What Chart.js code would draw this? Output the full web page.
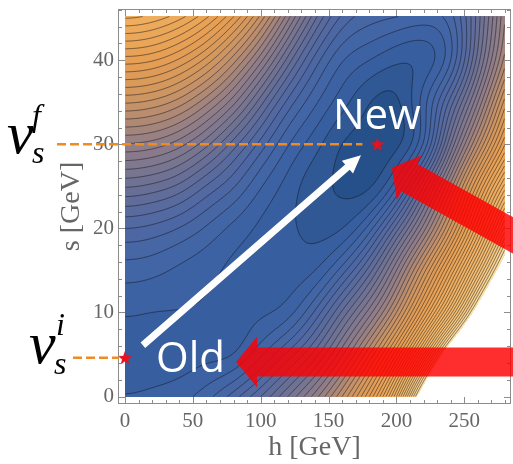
<!DOCTYPE html>
<html><head><meta charset="utf-8">
<script src="https://cdn.jsdelivr.net/npm/chart.js@4.4.1/dist/chart.umd.min.js"></script>
<style>
html,body{margin:0;padding:0;background:#fff;overflow:hidden;}
canvas{display:block;}
</style></head>
<body>
<canvas id="c" width="520" height="464" style="width:520px;height:464px"></canvas>
<script>
// ---------- data ----------
const hValues = [0,20,40,60,80,100,120,140,160,180,200,220,240,260,280];
const sValues = [0,5,10,15,20,25,30,35,40,45];
// contour level index of the potential at each (h, s) grid node
const level_s0  = [3.05,3.2,3.6,4.6,6.5,9.0,12.0,15.5,20.0,26.0,35.0,48.0,60.0,72.0,84.0];
const level_s5  = [2.5,2.5,2.55,2.75,3.05,4.8,7.3,10.5,14.8,20.0,27.0,37.0,48.5,59.0,70.0];
const level_s10 = [3.1,3.0,2.95,2.85,2.7,2.85,3.6,6.2,10.2,14.5,20.0,27.5,36.5,47.0,58.0];
const level_s15 = [4.5,4.3,3.8,3.3,2.8,2.6,2.5,3.0,5.5,9.5,15.0,21.5,29.0,38.0,48.0];
const level_s20 = [7.0,6.7,5.95,4.85,3.7,2.8,2.2,1.7,2.0,4.5,9.5,15.5,22.5,31.0,40.5];
const level_s25 = [11.1,10.7,9.7,7.9,6.1,4.1,2.6,1.4,0.85,0.9,3.8,10.0,17.5,25.5,33.5];
const level_s30 = [15.9,15.55,14.4,12.3,9.5,6.6,4.1,2.4,1.0,0.55,0.8,4.2,12.0,19.5,27.0];
const level_s35 = [21.1,20.7,19.5,17.3,14.3,10.4,6.7,4.2,2.4,1.05,0.85,3.5,8.5,15.0,22.5];
const level_s40 = [26.5,26.1,24.8,22.6,19.4,15.3,10.6,6.6,4.1,3.0,2.2,2.4,5.0,11.5,18.5];
const level_s45 = [32.0,31.5,30.2,28.0,24.8,20.5,15.3,10.2,6.7,5.4,4.9,4.5,5.6,10.5,17.0];
const levelGrid = [level_s0,level_s5,level_s10,level_s15,level_s20,level_s25,level_s30,level_s35,level_s40,level_s45];
const contourLevels = [1,2,3,4,5,6,7,8,9,10,11,12,13,14,15,16,17,18,19,20,21,22,23,24,25,26,27,28,29,30,31,32,33,34,35,36,37,38,39,40,41,42,43,44];
const clipLevel = 45;
const plotRangeH = [0, 280];
const plotRangeS = [0, 45.25];
const vacuumH = [0, 186];
const vacuumS = [4.6, 30];
const vacuumNames = ['Old', 'New'];
const xTickValues = [0,50,100,150,200,250];
const yTickValues = [0,10,20,30,40];

// ---------- smooth field: natural cubic splines through the grid ----------
function splineM(y) {            // second derivatives (unit spacing), natural ends
  const n = y.length, M = new Array(n).fill(0);
  if (n < 3) return M;
  const c = new Array(n).fill(0), d = new Array(n).fill(0);
  for (let i = 1; i < n - 1; i++) {
    const rhs = 6 * (y[i - 1] - 2 * y[i] + y[i + 1]);
    const m = 4 - (i > 1 ? c[i - 1] : 0);
    c[i] = 1 / m;
    d[i] = (rhs - (i > 1 ? d[i - 1] : 0)) / m;
  }
  for (let i = n - 2; i >= 1; i--) M[i] = d[i] - c[i] * M[i + 1];
  return M;
}
function splineAt(y, M, u) {     // u in node units
  const n = y.length;
  let i = Math.floor(u); if (i < 0) i = 0; if (i > n - 2) i = n - 2;
  const t = u - i, s = 1 - t;
  return s * y[i] + t * y[i + 1] + ((s * s * s - s) * M[i] + (t * t * t - t) * M[i + 1]) / 6;
}
// each row is extended by mirror symmetry h -> -h
const dh = hValues[1] - hValues[0], ds = sValues[1] - sValues[0];
const rowExt = levelGrid.map(r => [r[2], r[1]].concat(r));
const rowM = rowExt.map(r => splineM(r));
function columnAt(h) {
  const u = (h - hValues[0]) / dh + 2;
  return rowExt.map((r, j) => splineAt(r, rowM[j], u));
}

// colour ramp (blue -> grey -> orange -> pale)
const rampL = [0.5, 2, 4, 7, 10, 13, 16, 19, 22, 26, 32, 38, 42, 45];
const rampC = [[37,80,137],[52,92,155],[64,100,166],[78,104,163],[100,110,152],[124,118,144],[147,127,134],[182,139,114],[210,151,95],[229,158,82],[240,174,94],[245,190,112],[248,205,135],[251,228,172]];
function colorAt(L) {
  if (L <= rampL[0]) return rampC[0];
  for (let k = 1; k < rampL.length; k++) {
    if (L <= rampL[k]) {
      const f = (L - rampL[k - 1]) / (rampL[k] - rampL[k - 1]);
      const a = rampC[k - 1], b = rampC[k];
      return [a[0] + f * (b[0] - a[0]), a[1] + f * (b[1] - a[1]), a[2] + f * (b[2] - a[2])];
    }
  }
  return rampC[rampC.length - 1];
}

const levelSet = {};
contourLevels.forEach(v => levelSet[v] = true);

const contourPlugin = {
  id: 'contour',
  beforeDatasetsDraw(chart) {
    const ctx = chart.ctx, xs = chart.scales.x, ys = chart.scales.y;
    const px0 = Math.round(xs.getPixelForValue(plotRangeH[0]));
    const px1 = Math.round(xs.getPixelForValue(plotRangeH[1]));
    const py0 = Math.round(ys.getPixelForValue(plotRangeS[1]));
    const py1 = Math.round(ys.getPixelForValue(plotRangeS[0]));
    const W = px1 - px0, H = py1 - py0;
    const vals = new Float32Array(W * H);
    const sU = [];
    for (let j = 0; j < H; j++) sU.push((ys.getValueForPixel(py0 + j + 0.5) - sValues[0]) / ds);
    for (let i = 0; i < W; i++) {
      const col = columnAt(xs.getValueForPixel(px0 + i + 0.5));
      const M = splineM(col);
      for (let j = 0; j < H; j++) vals[j * W + i] = splineAt(col, M, sU[j]);
    }
    const off = document.createElement('canvas');
    off.width = W; off.height = H;
    const octx = off.getContext('2d');
    const img = octx.createImageData(W, H);
    for (let k = 0; k < W * H; k++) {
      const L = vals[k];
      if (L >= clipLevel) continue;
      const c = colorAt(Math.floor(L) + 0.5);
      img.data[4 * k] = c[0]; img.data[4 * k + 1] = c[1]; img.data[4 * k + 2] = c[2]; img.data[4 * k + 3] = 255;
    }
    octx.putImageData(img, 0, 0);
    ctx.drawImage(off, px0, py0);

    ctx.save();
    ctx.beginPath(); ctx.rect(px0, py0, W, H); ctx.clip();
    ctx.beginPath();
    const ox = px0 + 0.5, oy = py0 + 0.5;
    for (let j = 0; j < H - 1; j++) {
      for (let i = 0; i < W - 1; i++) {
        const a = vals[j * W + i], b = vals[j * W + i + 1], c = vals[(j + 1) * W + i + 1], d = vals[(j + 1) * W + i];
        const mn = Math.min(a, b, c, d), mx = Math.max(a, b, c, d);
        const k0 = Math.floor(mn) + 1, k1 = Math.floor(mx);
        for (let k = k0; k <= k1; k++) {
          if (!levelSet[k]) continue;
          const pts = [];
          if ((a < k) !== (b < k)) pts.push([i + (k - a) / (b - a), j]);
          if ((b < k) !== (c < k)) pts.push([i + 1, j + (k - b) / (c - b)]);
          if ((d < k) !== (c < k)) pts.push([i + (k - d) / (c - d), j + 1]);
          if ((a < k) !== (d < k)) pts.push([i, j + (k - a) / (d - a)]);
          for (let p = 0; p + 1 < pts.length; p += 2) {
            ctx.moveTo(ox + pts[p][0], oy + pts[p][1]);
            ctx.lineTo(ox + pts[p + 1][0], oy + pts[p + 1][1]);
          }
        }
      }
    }
    ctx.strokeStyle = 'rgba(20,20,30,0.55)';
    ctx.lineWidth = 1;
    ctx.stroke();
    ctx.restore();
  }
};

// frame with inward ticks (Mathematica style)
const framePlugin = {
  id: 'frame',
  afterDatasetsDraw(chart) {
    const ctx = chart.ctx, a = chart.chartArea, xs = chart.scales.x, ys = chart.scales.y;
    ctx.save();
    ctx.strokeStyle = '#8c8c8c'; ctx.lineWidth = 1;
    ctx.strokeRect(a.left + 0.5, a.top + 0.5, a.right - a.left - 1, a.bottom - a.top - 1);
    ctx.beginPath();
    for (let v = 0; v <= 280; v += 10) {
      const px = Math.round(xs.getPixelForValue(v)) + 0.5;
      const len = v % 50 === 0 ? 7 : 4;
      ctx.moveTo(px, a.bottom); ctx.lineTo(px, a.bottom - len);
      ctx.moveTo(px, a.top); ctx.lineTo(px, a.top + len);
    }
    for (let v = 0; v <= 46; v += 2) {
      const py = Math.round(ys.getPixelForValue(v)) + 0.5;
      const len = v % 10 === 0 ? 7 : 4;
      ctx.moveTo(a.left, py); ctx.lineTo(a.left + len, py);
      ctx.moveTo(a.right, py); ctx.lineTo(a.right - len, py);
    }
    ctx.stroke();
    ctx.restore();
  }
};

function arrow(ctx, x1, y1, x2, y2, sw, hl, hw, color) {
  const dx = x2 - x1, dy = y2 - y1, len = Math.hypot(dx, dy);
  const ux = dx / len, uy = dy / len, nx = -uy, ny = ux;
  const bx = x2 - ux * hl, by = y2 - uy * hl;
  ctx.beginPath();
  ctx.moveTo(x1 + nx * sw / 2, y1 + ny * sw / 2);
  ctx.lineTo(bx + nx * sw / 2, by + ny * sw / 2);
  ctx.lineTo(bx + nx * hw / 2, by + ny * hw / 2);
  ctx.lineTo(x2, y2);
  ctx.lineTo(bx - nx * hw / 2, by - ny * hw / 2);
  ctx.lineTo(bx - nx * sw / 2, by - ny * sw / 2);
  ctx.lineTo(x1 - nx * sw / 2, y1 - ny * sw / 2);
  ctx.closePath();
  ctx.fillStyle = color;
  ctx.fill();
}

function mathLabel(ctx, x, y, sup, supDx, supDy, subDx, subDy) {
  ctx.fillStyle = '#000';
  ctx.textAlign = 'left'; ctx.textBaseline = 'alphabetic';
  ctx.font = 'italic 60px "Liberation Serif"';
  ctx.fillText('v', x, y);
  ctx.font = 'italic 32px "Liberation Serif"';
  ctx.fillText(sup, x + supDx, y + supDy);
  ctx.fillText('s', x + subDx, y + subDy);
}

const annotatePlugin = {
  id: 'annotate',
  afterDatasetsDraw(chart) {
    const ctx = chart.ctx, xs = chart.scales.x, ys = chart.scales.y;
    const X = v => xs.getPixelForValue(v), Y = v => ys.getPixelForValue(v);
    ctx.save();
    // dashed guide lines to the vacuum expectation values
    ctx.strokeStyle = '#f08a22'; ctx.lineWidth = 2.5; ctx.setLineDash([9, 4]);
    ctx.beginPath();
    ctx.moveTo(57, Y(vacuumS[1])); ctx.lineTo(X(vacuumH[1]) - 15, Y(vacuumS[1]));
    ctx.moveTo(73, Y(vacuumS[0])); ctx.lineTo(X(vacuumH[0]) - 6, Y(vacuumS[0]));
    ctx.stroke();
    ctx.setLineDash([]);
    // white tunnelling arrow
    arrow(ctx, X(13.2), Y(6.1), X(173.9), Y(28.7), 7, 18, 17, '#ffffff');
    // red arrows
    arrow(ctx, X(300), Y(4.1), X(81.9), Y(4.1), 29, 21, 51, 'rgba(255,0,0,0.82)');
    arrow(ctx, X(330), Y(15.2), X(196.6), Y(27.2), 32, 20, 51, 'rgba(255,0,0,0.82)');
    // text labels
    ctx.fillStyle = '#ffffff';
    ctx.font = '42px "Open Sans"';
    ctx.textBaseline = 'alphabetic'; ctx.textAlign = 'left';
    ctx.fillText(vacuumNames[1], 333, 129);
    ctx.fillText(vacuumNames[0], 156, 372);
    // vev labels
    mathLabel(ctx, 7, 153, 'f', 25, -27, 25, 10);
    mathLabel(ctx, 29, 363, 'i', 27, -28, 25, 11);
    ctx.restore();
  }
};

// star point style
const star = document.createElement('canvas');
star.width = 16; star.height = 16;
(function () {
  const c = star.getContext('2d');
  c.beginPath();
  for (let k = 0; k < 10; k++) {
    const r = k % 2 === 0 ? 7.5 : 3.0;
    const ang = -Math.PI / 2 + k * Math.PI / 5;
    const x = 8 + r * Math.cos(ang), y = 8.5 + r * Math.sin(ang);
    if (k === 0) c.moveTo(x, y); else c.lineTo(x, y);
  }
  c.closePath();
  c.fillStyle = '#e8121c';
  c.fill();
})();

const serif = '"Liberation Serif", "Times New Roman", serif';
new Chart(document.getElementById('c'), {
  type: 'scatter',
  data: {
    datasets: [{
      data: vacuumH.map((h, k) => ({x: h, y: vacuumS[k]})),
      pointStyle: star, pointRadius: 8, pointHoverRadius: 8
    }]
  },
  options: {
    responsive: false, animation: false, devicePixelRatio: 1,
    layout: {padding: {left: 0, right: 6, top: 8, bottom: 0}},
    plugins: {legend: {display: false}, tooltip: {enabled: false}},
    scales: {
      x: {
        type: 'linear', min: -5.12, max: 284.4,
        afterBuildTicks: s => { s.ticks = xTickValues.map(v => ({value: v})); },
        afterFit: s => { s.height = 60; s.paddingLeft = 0; s.paddingRight = 0; },
        grid: {display: false, drawTicks: false}, border: {display: false},
        ticks: {font: {family: serif, size: 21}, color: '#666', padding: 5, maxRotation: 0, autoSkip: false},
        title: {display: true, text: 'h [GeV]', font: {family: serif, size: 28}, color: '#666', padding: 0}
      },
      y: {
        type: 'linear', min: -0.89, max: 46.1,
        afterBuildTicks: s => { s.ticks = yTickValues.map(v => ({value: v})); },
        afterFit: s => { s.width = 118; s.paddingTop = 0; s.paddingBottom = 0; },
        grid: {display: false, drawTicks: false}, border: {display: false},
        ticks: {font: {family: serif, size: 21}, color: '#666', padding: 4, autoSkip: false},
        title: {display: true, text: 's [GeV]', font: {family: serif, size: 28}, color: '#666', padding: {top: 55, bottom: 0}}
      }
    }
  },
  plugins: [contourPlugin, framePlugin, annotatePlugin]
});
</script>
</body></html>
